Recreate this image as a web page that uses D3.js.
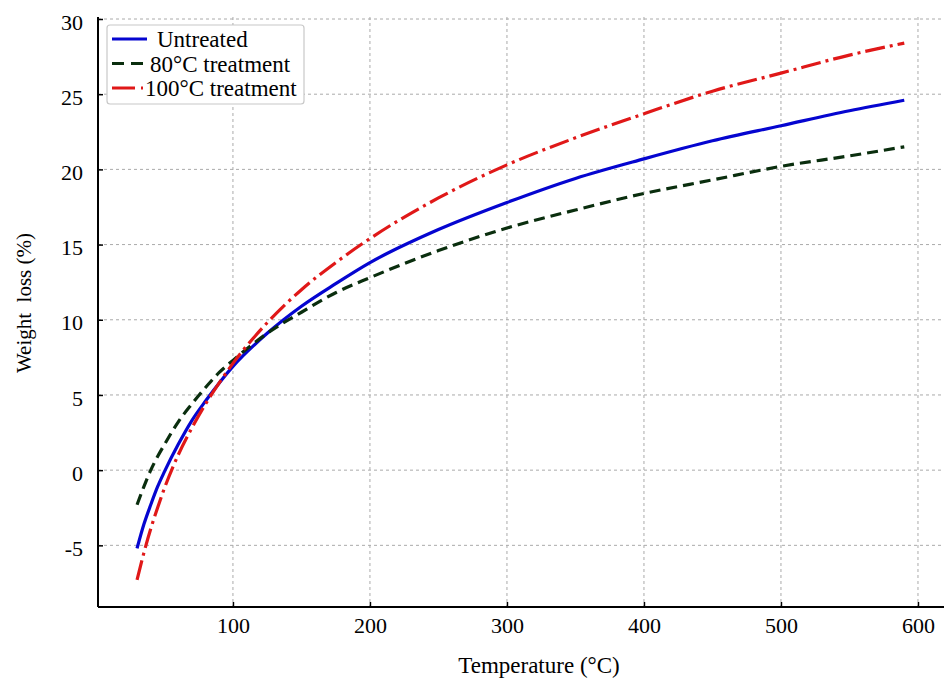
<!DOCTYPE html>
<html>
<head>
<meta charset="utf-8">
<script src="https://cdn.jsdelivr.net/npm/d3@7"></script>
<style>
  body { margin: 0; background: #fff; }
</style>
</head>
<body>
<div id="chart"></div>
<script>
const temps = [30, 35, 40, 45, 50, 60, 70, 80, 90, 100, 125, 150, 175, 200, 250, 300, 350, 400, 450, 500, 550, 590];
const untreated = [-5.2, -3.6, -2.3, -1.1, -0.1, 1.7, 3.3, 4.6, 5.8, 6.9, 9.1, 10.9, 12.4, 13.8, 16.0, 17.8, 19.4, 20.7, 21.9, 22.9, 23.9, 24.6];
const treat80 = [-2.3, -1.1, 0.0, 0.9, 1.7, 3.2, 4.4, 5.5, 6.5, 7.3, 9.1, 10.5, 11.8, 12.8, 14.6, 16.1, 17.3, 18.4, 19.3, 20.2, 20.9, 21.5];
const treat100 = [-7.3, -5.5, -3.9, -2.5, -1.2, 1.0, 2.8, 4.4, 5.8, 7.1, 9.8, 12.0, 13.8, 15.4, 18.1, 20.3, 22.1, 23.7, 25.2, 26.4, 27.6, 28.4];
const xTicks = [100, 200, 300, 400, 500, 600];
const yTicks = [-5, 0, 5, 10, 15, 20, 25, 30];
const seriesNames = ["Untreated", "80\u00b0C treatment", "100\u00b0C treatment"];

const SERIF = "'Liberation Serif', 'DejaVu Serif', serif";
const W = 944, H = 680;
const svg = d3.select("#chart").append("svg")
  .attr("width", W)
  .attr("height", H);

const x = d3.scaleLinear().domain([1.5, 619]).range([98, 944]);
const y = d3.scaleLinear().domain([-9.1, 30]).range([607, 19]);

// grid
svg.append("g")
  .selectAll("line")
  .data(xTicks)
  .join("line")
  .attr("x1", d => x(d)).attr("x2", d => x(d))
  .attr("y1", 17).attr("y2", 607)
  .attr("stroke", "#aaa")
  .attr("stroke-width", 1)
  .attr("stroke-dasharray", "3,3");

svg.append("g")
  .selectAll("line")
  .data(yTicks)
  .join("line")
  .attr("x1", 98).attr("x2", 944)
  .attr("y1", d => y(d)).attr("y2", d => y(d))
  .attr("stroke", "#aaa")
  .attr("stroke-width", 1)
  .attr("stroke-dasharray", "3,3");

// axes
const xAxis = svg.append("g")
  .attr("transform", `translate(0,607)`)
  .call(d3.axisBottom(x).tickValues(xTicks).tickFormat(d => String(d))
    .tickSize(-5).tickPadding(10).tickSizeOuter(0));
const yAxis = svg.append("g")
  .attr("transform", `translate(98,0)`)
  .call(d3.axisLeft(y).tickValues(yTicks).tickFormat(d => String(d))
    .tickSize(-5).tickPadding(15).tickSizeOuter(0));

[xAxis, yAxis].forEach(a => {
  a.attr("font-family", null);
  a.select(".domain").attr("stroke", "#000").attr("stroke-width", 2);
  a.selectAll(".tick line").attr("stroke", "#000").attr("stroke-width", 1.5);
  a.selectAll(".tick text")
    .attr("fill", "#000")
    .style("font-family", SERIF)
    .style("font-size", "22px");
});
yAxis.selectAll(".tick text").attr("dy", "0.46em");
yAxis.select(".domain").attr("d", "M0,17V607");
xAxis.select(".domain").attr("d", "M98,0H944");

// lines
const series = [
  { name: seriesNames[0], values: untreated, color: "#0505d0", dash: null },
  { name: seriesNames[1], values: treat80, color: "#0a2e0e", dash: "11,6" },
  { name: seriesNames[2], values: treat100, color: "#e01818", dash: "20,5,3,5" }
];

const line = d3.line()
  .x((d, i) => x(temps[i]))
  .y(d => y(d))
  .curve(d3.curveMonotoneX);

svg.append("g")
  .selectAll("path")
  .data(series)
  .join("path")
  .attr("d", d => line(d.values))
  .attr("fill", "none")
  .attr("stroke", d => d.color)
  .attr("stroke-width", 3.2)
  .attr("stroke-dasharray", d => d.dash);

// legend
const legend = svg.append("g");
legend.append("rect")
  .attr("x", 107).attr("y", 25)
  .attr("width", 197).attr("height", 79)
  .attr("rx", 3)
  .attr("fill", "#fff")
  .attr("stroke", "#c8c8c8")
  .attr("stroke-width", 1.2);

const legendRows = [
  { sx2: 147, dash: null, tx: 157 },
  { sx2: 143, dash: "12,7", tx: 150 },
  { sx2: 143, dash: "23,6,3,20", tx: 145 }
];

const legendItems = legend.selectAll("g.item")
  .data(series)
  .join("g")
  .attr("class", "item")
  .attr("transform", (d, i) => `translate(0,${39 + i * 24.5})`);

legendItems.append("line")
  .attr("x1", 112).attr("x2", (d, i) => legendRows[i].sx2)
  .attr("y1", 0).attr("y2", 0)
  .attr("stroke", d => d.color)
  .attr("stroke-width", 3.2)
  .attr("stroke-dasharray", (d, i) => legendRows[i].dash);

legendItems.append("text")
  .attr("x", (d, i) => legendRows[i].tx)
  .attr("y", 8)
  .style("font-family", SERIF)
  .style("font-size", "23px")
  .attr("fill", "#000")
  .text(d => d.name);

// axis labels
svg.append("text")
  .attr("x", 539).attr("y", 673)
  .attr("text-anchor", "middle")
  .style("font-family", SERIF)
  .style("font-size", "23px")
  .text("Temperature (\u00b0C)");

svg.append("text")
  .attr("transform", "translate(31,303) rotate(-90)")
  .attr("text-anchor", "middle")
  .style("font-family", SERIF)
  .style("font-size", "21px")
  .style("white-space", "pre")
  .text("Weight  loss (%)");
</script>
</body>
</html>
